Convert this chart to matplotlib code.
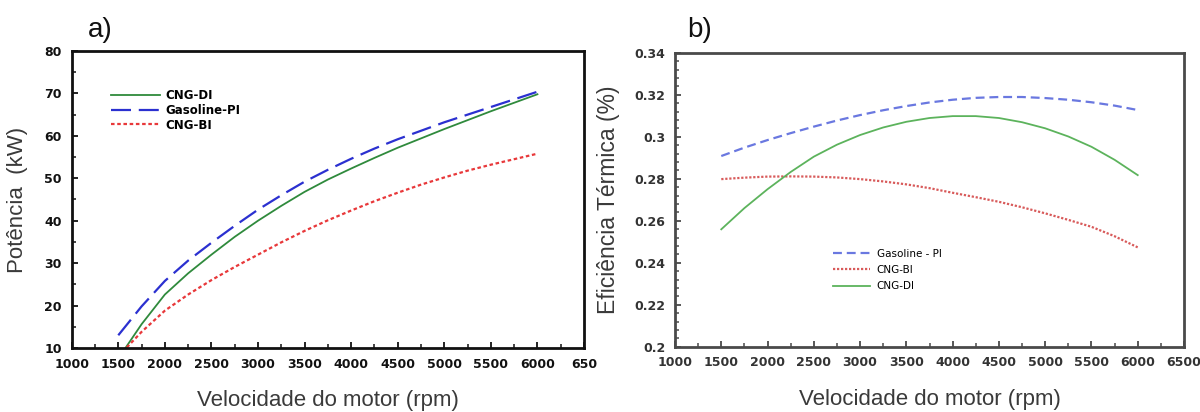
import matplotlib
matplotlib.use("Agg")
import matplotlib.pyplot as plt
from matplotlib.ticker import MultipleLocator

# --- data -------------------------------------------------------------
rpm = [1500, 1750, 2000, 2250, 2500, 2750, 3000, 3250, 3500, 3750,
       4000, 4250, 4500, 4750, 5000, 5250, 5500, 5750, 6000]

# a) potencia (kW)
pot_cng_di = [7.5, 15.6, 22.6, 27.6, 32.0, 36.2, 40.0, 43.5, 46.8, 49.7,
              52.3, 54.8, 57.2, 59.4, 61.6, 63.7, 65.8, 67.8, 69.8]
pot_gasoline_pi = [13.0, 19.8, 25.8, 30.6, 34.8, 38.8, 42.6, 46.0, 49.2, 52.0,
                   54.6, 57.0, 59.2, 61.2, 63.2, 65.0, 66.8, 68.6, 70.4]
pot_cng_bi = [8.0, 13.8, 18.8, 22.6, 26.0, 29.1, 32.0, 34.9, 37.6, 40.1,
              42.4, 44.6, 46.6, 48.5, 50.2, 51.8, 53.2, 54.5, 55.8]

# b) eficiencia termica
ef_gasoline_pi = [0.2908, 0.2948, 0.2984, 0.3017, 0.3048, 0.3077, 0.3103, 0.3126,
                  0.3146, 0.3163, 0.3176, 0.3185, 0.3189, 0.3189, 0.3184, 0.3176,
                  0.3164, 0.3148, 0.3127]
ef_cng_bi = [0.2798, 0.2805, 0.2810, 0.2811, 0.2810, 0.2806, 0.2798, 0.2787,
             0.2773, 0.2755, 0.2733, 0.2712, 0.2690, 0.2664, 0.2635, 0.2604,
             0.2571, 0.2526, 0.2473]
ef_cng_di = [0.2559, 0.2660, 0.2750, 0.2832, 0.2905, 0.2962, 0.3008, 0.3044,
             0.3071, 0.3089, 0.3098, 0.3098, 0.3089, 0.3069, 0.3040, 0.3001,
             0.2952, 0.2890, 0.2817]

xticks = [1000, 1500, 2000, 2500, 3000, 3500, 4000, 4500, 5000, 5500, 6000, 6500]
xlabels_a = ['1000', '1500', '2000', '2500', '3000', '3500', '4000', '4500',
             '5000', '5500', '6000', '650']
xlabels_b = [str(v) for v in xticks]
yticks_b = [0.2, 0.22, 0.24, 0.26, 0.28, 0.3, 0.32, 0.34]
ylabels_b = ['0.2', '0.22', '0.24', '0.26', '0.28', '0.3', '0.32', '0.34']

W, H = 1200, 412
fig = plt.figure(figsize=(12, 4.12), dpi=100)

def px_axes(l, t, r, b):
    return fig.add_axes([l / W, 1 - b / H, (r - l) / W, (b - t) / H])

label_font = dict(family='Liberation Sans', size=16, color='#3a3a3a')

def style(ax, spine_color, tick_color):
    for s in ax.spines.values():
        s.set_linewidth(2)
        s.set_color(spine_color)
    ax.tick_params(which='both', direction='in', top=False, right=False,
                   color=spine_color, labelcolor=tick_color)
    ax.tick_params(which='major', length=4, width=1.3, pad=7)
    ax.tick_params(which='minor', length=3, width=1.1)
    for lab in ax.get_xticklabels() + ax.get_yticklabels():
        lab.set_fontfamily('DejaVu Sans')
        lab.set_fontsize(9)
        lab.set_fontweight('bold')

# --- panel a ----------------------------------------------------------
ax1 = px_axes(71.7, 51, 584, 348)
ax1.plot(rpm, pot_cng_di, color='#2f8a3c', lw=1.3, label='CNG-DI')
ax1.plot(rpm, pot_gasoline_pi, color='#2b30d0', lw=1.6, dashes=(9, 3.5),
         label='Gasoline-PI')
ax1.plot(rpm, pot_cng_bi, color='#e8383a', lw=1.6, dashes=(1.6, 1.2),
         label='CNG-BI')
ax1.set_xlim(1000, 6500)
ax1.set_ylim(10, 80)
ax1.set_xticks(xticks)
ax1.set_xticklabels(xlabels_a)
ax1.xaxis.set_minor_locator(MultipleLocator(250))
ax1.yaxis.set_major_locator(MultipleLocator(10))
ax1.yaxis.set_minor_locator(MultipleLocator(5))
style(ax1, '#111111', '#111111')
ax1.set_xlabel('Velocidade do motor (rpm)', labelpad=14, **label_font)
ax1.set_ylabel('Potência  (kW)', labelpad=12, **label_font)
ax1.legend(loc='upper left', bbox_to_anchor=(0.077, 0.872), frameon=False,
           borderaxespad=0, borderpad=0, handlelength=4.1, handletextpad=0.5,
           labelspacing=0.15, prop=dict(family='DejaVu Sans', size=8.5, weight='bold'))
fig.text(100 / W, 1 - 30 / H, 'a)', ha='center', va='center',
         family='Liberation Sans', size=20, color='#111111')

# --- panel b ----------------------------------------------------------
ax2 = px_axes(675, 52.7, 1184, 346.7)
ax2.plot(rpm, ef_gasoline_pi, color='#6a78e0', lw=1.6, dashes=(4, 2.2),
         label='Gasoline - PI')
ax2.plot(rpm, ef_cng_bi, color='#d85a5a', lw=1.6, dashes=(1.0, 0.8),
         label='CNG-BI')
ax2.plot(rpm, ef_cng_di, color='#5cb35c', lw=1.3, label='CNG-DI')
ax2.set_xlim(1000, 6500)
ax2.set_ylim(0.2, 0.34)
ax2.set_xticks(xticks)
ax2.set_xticklabels(xlabels_b)
ax2.set_yticks(yticks_b)
ax2.set_yticklabels(ylabels_b)
ax2.xaxis.set_minor_locator(MultipleLocator(250))
ax2.yaxis.set_minor_locator(MultipleLocator(0.004))
style(ax2, '#4a4a4a', '#333333')
ax2.set_xlabel('Velocidade do motor (rpm)', labelpad=14, **label_font)
ax2.set_ylabel('Eficiência Térmica (%)', labelpad=10,
               family='Liberation Sans', size=16.5, color='#3a3a3a')
ax2.legend(loc='upper left', bbox_to_anchor=(0.31, 0.334), frameon=False,
           borderaxespad=0, borderpad=0, handlelength=3.6, handletextpad=0.6,
           labelspacing=0.62, prop=dict(family='DejaVu Sans', size=7.5))
fig.text(700 / W, 1 - 30 / H, 'b)', ha='center', va='center',
         family='Liberation Sans', size=20, color='#111111')

fig.savefig('out.png', dpi=100)
